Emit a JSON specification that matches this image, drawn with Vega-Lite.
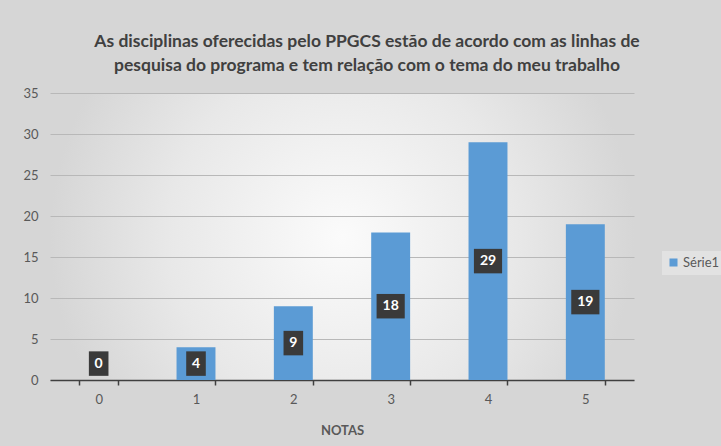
{
  "$schema": "https://vega.github.io/schema/vega-lite/v6.json",
  "width": 584,
  "height": 287,
  "autosize": {"type": "none"},
  "padding": {"left": 50, "top": 93, "right": 87, "bottom": 66},
  "background": "#d6d6d6",
  "title": {
    "text": ["As disciplinas oferecidas pelo PPGCS estão de acordo com as linhas de", "pesquisa do programa e tem relação com o tema do meu trabalho"],
    "font": "Lato",
    "fontSize": 17.5,
    "fontWeight": "bold",
    "color": "#404040",
    "lineHeight": 24,
    "anchor": "middle",
    "dx": 25,
    "offset": 13
  },
  "data": {
    "values": [
      {"nota": "0", "valor": 0},
      {"nota": "1", "valor": 4},
      {"nota": "2", "valor": 9},
      {"nota": "3", "valor": 18},
      {"nota": "4", "valor": 29},
      {"nota": "5", "valor": 19}
    ]
  },
  "transform": [
    {"calculate": "max(datum.valor / 2, 2)", "as": "meio"},
    {"calculate": "length(toString(datum.valor))", "as": "digitos"}
  ],
  "encoding": {
    "x": {
      "field": "nota",
      "type": "nominal",
      "sort": null,
      "scale": {"paddingInner": 0.6, "paddingOuter": 0.3},
      "axis": {
        "title": "NOTAS",
        "titleFont": "Lato",
        "titleFontSize": 13,
        "titleFontWeight": "bold",
        "titleColor": "#595959",
        "titlePadding": 18,
        "labelFont": "Lato",
        "labelFontSize": 13,
        "labelColor": "#595959",
        "labelAngle": 0,
        "labelPadding": 8,
        "domainColor": "#404040",
        "domainWidth": 1.5,
        "ticks": true,
        "tickBand": "extent",
        "tickColor": "#404040",
        "tickWidth": 1.5,
        "tickSize": 5,
        "grid": false
      }
    }
  },
  "layer": [
    {
      "mark": {"type": "bar"},
      "encoding": {
        "y": {
          "field": "valor",
          "type": "quantitative",
          "scale": {"domain": [0, 35]},
          "axis": {
            "title": null,
            "values": [0, 5, 10, 15, 20, 25, 30, 35],
            "labelFont": "Lato",
            "labelFontSize": 13,
            "labelColor": "#595959",
            "labelPadding": 12,
            "ticks": false,
            "domain": false,
            "grid": true,
            "gridColor": "#b8b8b8",
            "gridWidth": 1
          }
        },
        "color": {
          "datum": "Série1",
          "type": "nominal",
          "scale": {"range": ["#5b9bd5"]},
          "legend": {
            "title": null,
            "orient": "none",
            "legendX": 612,
            "legendY": 158,
            "fillColor": "#e2e2e2",
            "padding": 5,
            "symbolType": "square",
            "symbolSize": 64,
            "symbolStrokeWidth": 0,
            "labelFont": "Lato",
            "labelFontSize": 13,
            "labelColor": "#595959",
            "labelOffset": 3
          }
        }
      }
    },
    {
      "mark": {"type": "point", "filled": true, "opacity": 1, "color": "#3a3a3a", "size": 600},
      "encoding": {
        "y": {"field": "meio", "type": "quantitative"},
        "shape": {
          "field": "digitos",
          "type": "ordinal",
          "scale": {"domain": [1, 2], "range": ["M-0.8,-1H0.8V1H-0.8Z", "M-1.15,-1H1.15V1H-1.15Z"]},
          "legend": null
        }
      }
    },
    {
      "mark": {"type": "text", "color": "white", "font": "Lato", "fontSize": 14, "fontWeight": "bold", "baseline": "middle"},
      "encoding": {
        "y": {"field": "meio", "type": "quantitative"},
        "text": {"field": "valor", "type": "quantitative"}
      }
    }
  ],
  "config": {
    "view": {
      "stroke": null,
      "fill": {
        "gradient": "radial",
        "x1": 0.5, "y1": 0.5, "r1": 0,
        "x2": 0.5, "y2": 0.5, "r2": 0.5,
        "stops": [
          {"offset": 0, "color": "#fbfbfb"},
          {"offset": 0.6, "color": "#e8e8e8"},
          {"offset": 1, "color": "#d6d6d6"}
        ]
      }
    }
  }
}
